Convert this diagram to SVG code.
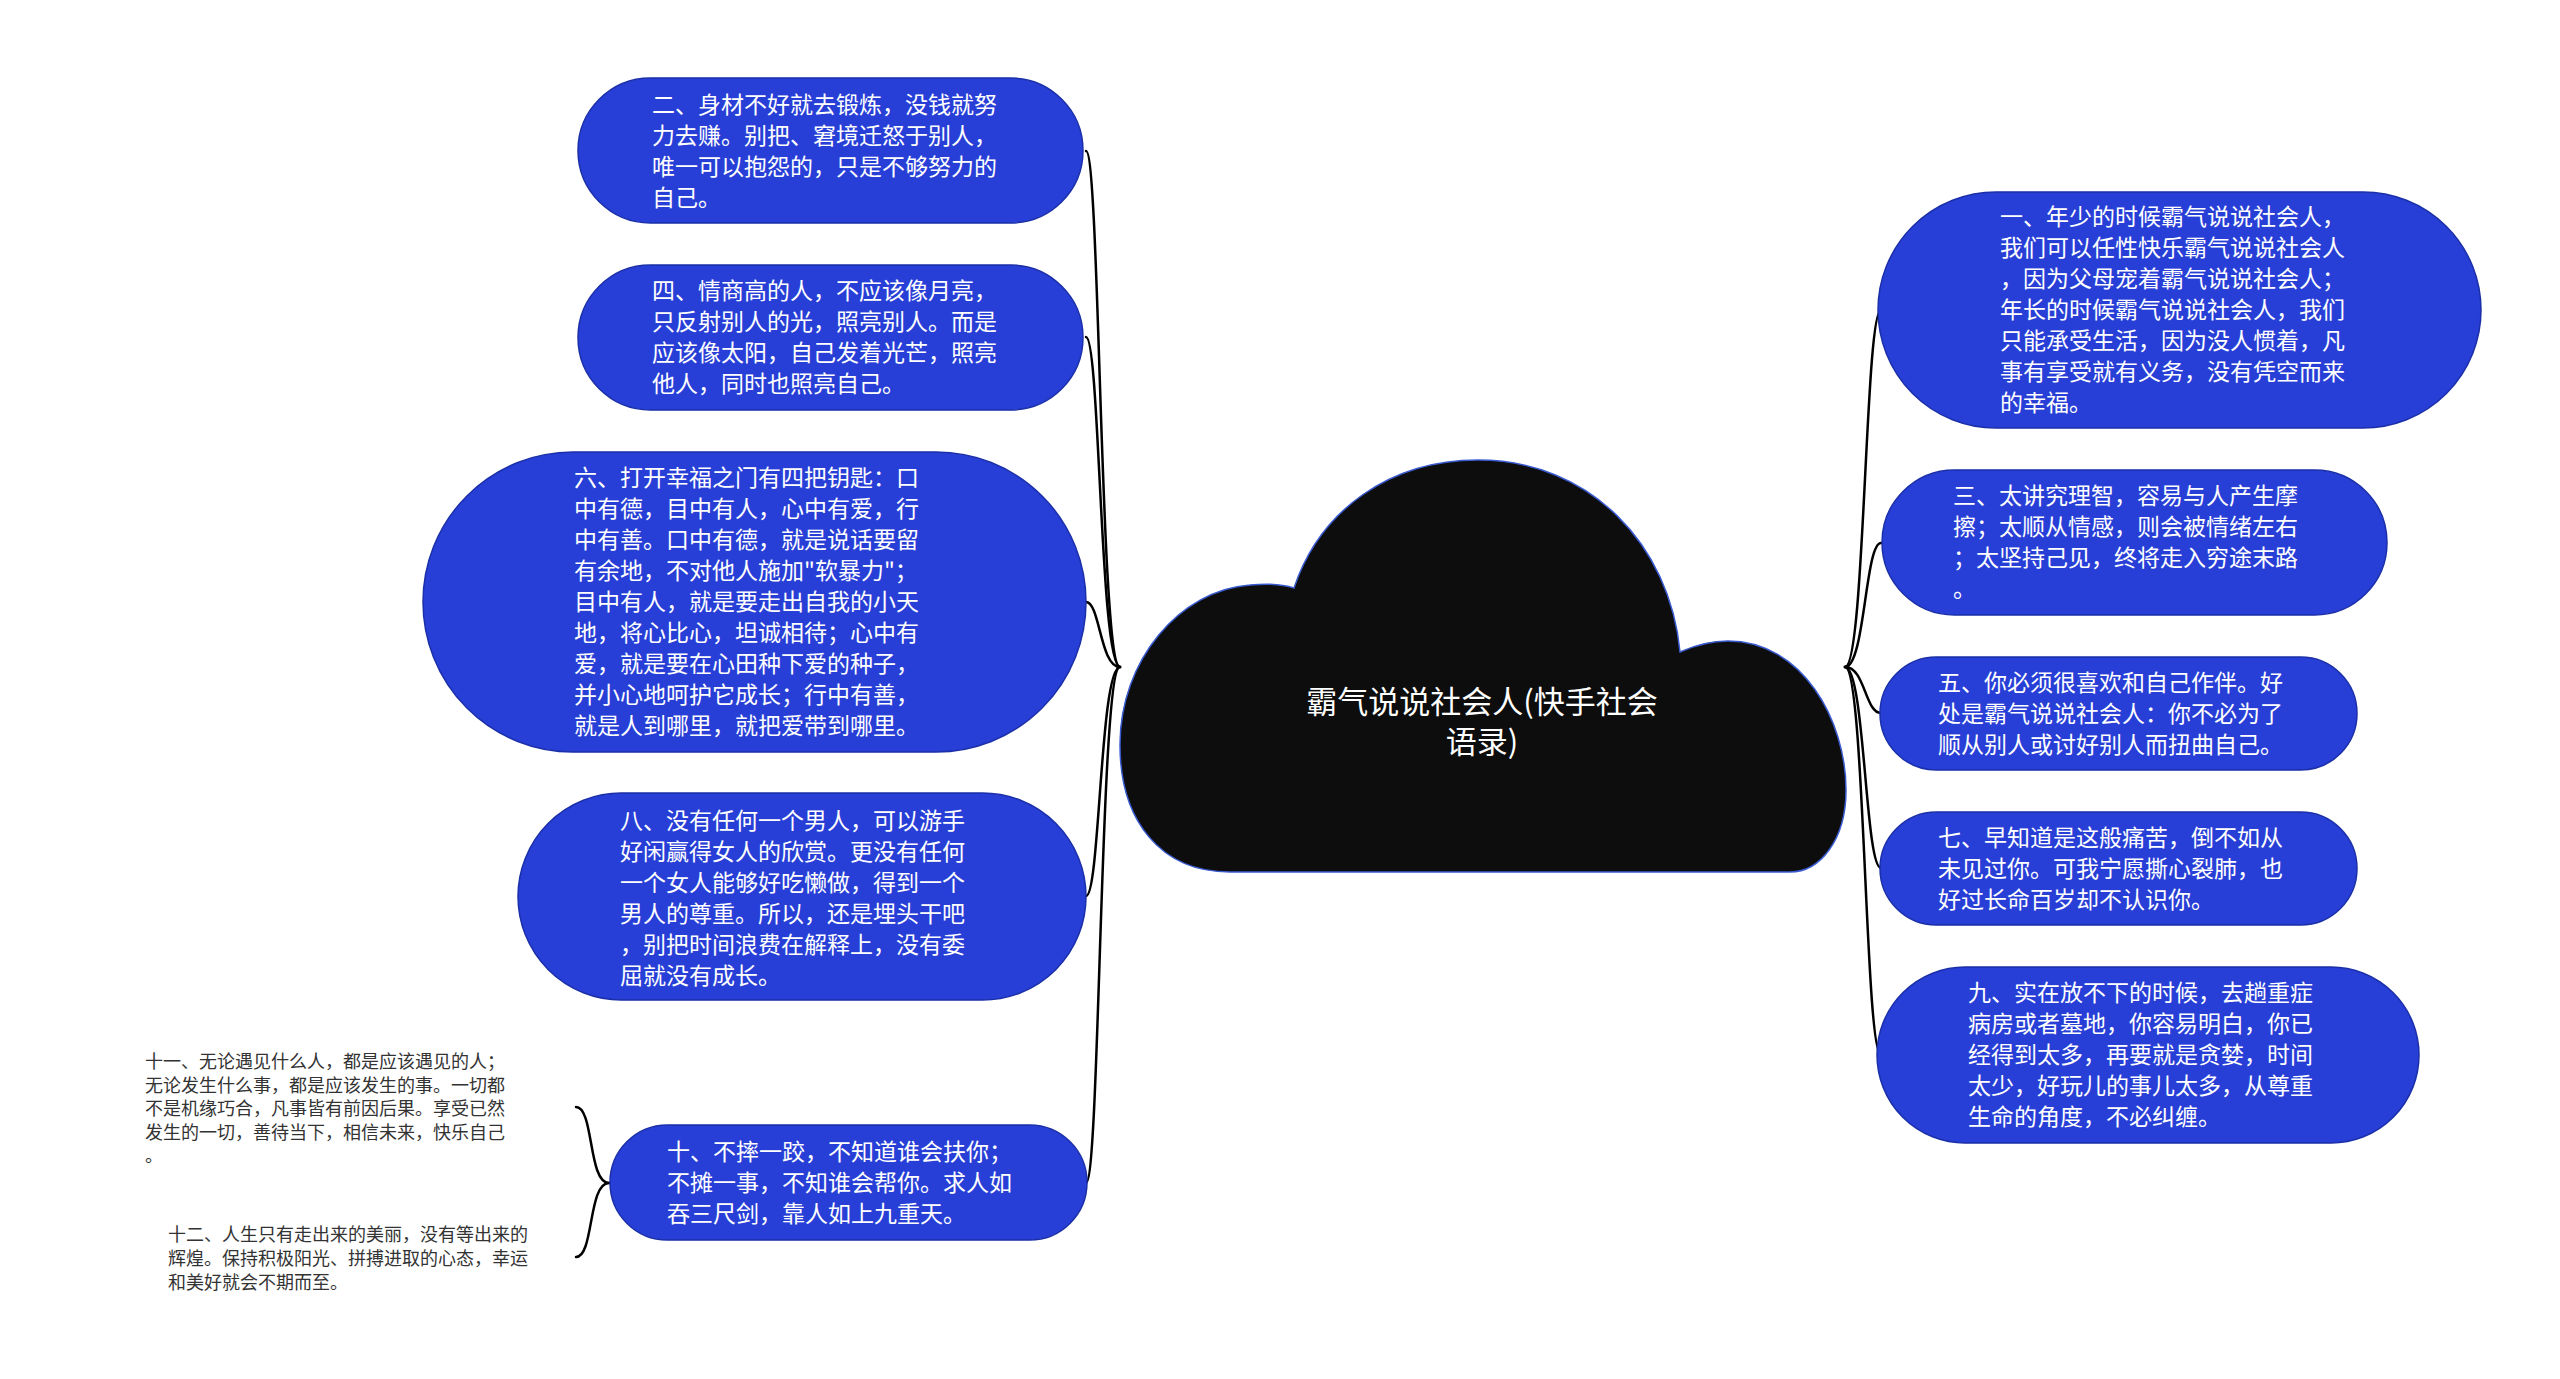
<svg xmlns="http://www.w3.org/2000/svg" width="2560" height="1379" viewBox="0 0 2560 1379">
<style>
.bg{fill:#ffffff}
.node{fill:#283fd7;stroke:#1a2fa8;stroke-width:1.5}
.t{font-family:"Noto Sans CJK SC","Liberation Sans",sans-serif;font-size:23px;fill:#ffffff}
.s{font-family:"Noto Sans CJK SC","Liberation Sans",sans-serif;font-size:18px;fill:#333333}
.c{font-family:"Noto Sans CJK SC","Liberation Sans",sans-serif;font-size:31px;fill:#ffffff;text-anchor:middle}
.cloud{fill:#0d0d0d;stroke:#3a5bd0;stroke-width:1.5}
.link{fill:none;stroke:#000000;stroke-width:2.5;stroke-linecap:round}
</style>
<rect class="bg" x="0" y="0" width="2560" height="1379"/>
<g id="connectors">
<path class="link" d="M1120,667 C1100,667 1100,151 1086,151"/>
<path class="link" d="M1120,667 C1100,667 1100,337 1086,337"/>
<path class="link" d="M1120,667 C1100,667 1100,602 1086,602"/>
<path class="link" d="M1120,667 C1100,667 1100,896 1086,896"/>
<path class="link" d="M1120,667 C1100,667 1100,1183 1086,1183"/>
<path class="link" d="M1845,667 C1865,667 1865,310 1881,310"/>
<path class="link" d="M1845,667 C1865,667 1865,543 1881,543"/>
<path class="link" d="M1845,667 C1865,667 1865,713 1881,713"/>
<path class="link" d="M1845,667 C1865,667 1865,868 1881,868"/>
<path class="link" d="M1845,667 C1865,667 1865,1055 1881,1055"/>
<path class="link" d="M609,1183 C588,1183 594,1107 576,1107"/>
<path class="link" d="M609,1183 C588,1183 594,1257 576,1257"/>
</g>
<g id="root">
<path class="cloud" d="M1230,872 C1160,872 1120,820 1120,745 C1120,660 1180,590 1250,585 C1270,583 1285,585 1294,588 C1320,510 1390,460 1478,460 C1590,460 1670,545 1680,652 C1698,644 1712,641 1728,641 C1802,641 1846,720 1846,790 C1846,840 1820,872 1790,872 Z"/>
<text class="c" x="1482" y="713">霸气说说社会人(快手社会</text>
<text class="c" x="1482" y="753">语录)</text>
</g>
<g id="n2">
<rect class="node" x="578" y="78" width="505" height="145" rx="72.5" ry="72.5"/>
<text class="t"><tspan x="652" y="113">二、身材不好就去锻炼，没钱就努</tspan><tspan x="652" y="144">力去赚。别把、窘境迁怒于别人，</tspan><tspan x="652" y="175">唯一可以抱怨的，只是不够努力的</tspan><tspan x="652" y="206">自己。</tspan></text>
</g>
<g id="n4">
<rect class="node" x="578" y="265" width="505" height="145" rx="72.5" ry="72.5"/>
<text class="t"><tspan x="652" y="299">四、情商高的人，不应该像月亮，</tspan><tspan x="652" y="330">只反射别人的光，照亮别人。而是</tspan><tspan x="652" y="361">应该像太阳，自己发着光芒，照亮</tspan><tspan x="652" y="392">他人，同时也照亮自己。</tspan></text>
</g>
<g id="n6">
<rect class="node" x="423" y="452" width="663" height="300" rx="150" ry="150"/>
<text class="t"><tspan x="574" y="486">六、打开幸福之门有四把钥匙：口</tspan><tspan x="574" y="517">中有德，目中有人，心中有爱，行</tspan><tspan x="574" y="548">中有善。口中有德，就是说话要留</tspan><tspan x="574" y="579">有余地，不对他人施加"软暴力"；</tspan><tspan x="574" y="610">目中有人，就是要走出自我的小天</tspan><tspan x="574" y="641">地，将心比心，坦诚相待；心中有</tspan><tspan x="574" y="672">爱，就是要在心田种下爱的种子，</tspan><tspan x="574" y="703">并小心地呵护它成长；行中有善，</tspan><tspan x="574" y="734">就是人到哪里，就把爱带到哪里。</tspan></text>
</g>
<g id="n8">
<rect class="node" x="518" y="793" width="568" height="207" rx="103.5" ry="103.5"/>
<text class="t"><tspan x="620" y="829">八、没有任何一个男人，可以游手</tspan><tspan x="620" y="860">好闲赢得女人的欣赏。更没有任何</tspan><tspan x="620" y="891">一个女人能够好吃懒做，得到一个</tspan><tspan x="620" y="922">男人的尊重。所以，还是埋头干吧</tspan><tspan x="620" y="953">，别把时间浪费在解释上，没有委</tspan><tspan x="620" y="984">屈就没有成长。</tspan></text>
</g>
<g id="n10">
<rect class="node" x="610" y="1125" width="477" height="115" rx="57.5" ry="57.5"/>
<text class="t"><tspan x="667" y="1160">十、不摔一跤，不知道谁会扶你；</tspan><tspan x="667" y="1191">不摊一事，不知谁会帮你。求人如</tspan><tspan x="667" y="1222">吞三尺剑，靠人如上九重天。</tspan></text>
</g>
<g id="n11">
<text class="s"><tspan x="145" y="1068">十一、无论遇见什么人，都是应该遇见的人；</tspan><tspan x="145" y="1092">无论发生什么事，都是应该发生的事。一切都</tspan><tspan x="145" y="1115">不是机缘巧合，凡事皆有前因后果。享受已然</tspan><tspan x="145" y="1139">发生的一切，善待当下，相信未来，快乐自己</tspan><tspan x="145" y="1162">。</tspan></text>
</g>
<g id="n12">
<text class="s"><tspan x="168" y="1241">十二、人生只有走出来的美丽，没有等出来的</tspan><tspan x="168" y="1265">辉煌。保持积极阳光、拼搏进取的心态，幸运</tspan><tspan x="168" y="1289">和美好就会不期而至。</tspan></text>
</g>
<g id="n1">
<rect class="node" x="1878" y="192" width="603" height="236" rx="118" ry="118"/>
<text class="t"><tspan x="2000" y="225">一、年少的时候霸气说说社会人，</tspan><tspan x="2000" y="256">我们可以任性快乐霸气说说社会人</tspan><tspan x="2000" y="287">，因为父母宠着霸气说说社会人；</tspan><tspan x="2000" y="318">年长的时候霸气说说社会人，我们</tspan><tspan x="2000" y="349">只能承受生活，因为没人惯着，凡</tspan><tspan x="2000" y="380">事有享受就有义务，没有凭空而来</tspan><tspan x="2000" y="411">的幸福。</tspan></text>
</g>
<g id="n3">
<rect class="node" x="1882" y="470" width="505" height="145" rx="72.5" ry="72.5"/>
<text class="t"><tspan x="1953" y="504">三、太讲究理智，容易与人产生摩</tspan><tspan x="1953" y="535">擦；太顺从情感，则会被情绪左右</tspan><tspan x="1953" y="566">；太坚持己见，终将走入穷途末路</tspan><tspan x="1953" y="597">。</tspan></text>
</g>
<g id="n5">
<rect class="node" x="1880" y="657" width="477" height="113" rx="56.5" ry="56.5"/>
<text class="t"><tspan x="1938" y="691">五、你必须很喜欢和自己作伴。好</tspan><tspan x="1938" y="722">处是霸气说说社会人：你不必为了</tspan><tspan x="1938" y="753">顺从别人或讨好别人而扭曲自己。</tspan></text>
</g>
<g id="n7">
<rect class="node" x="1880" y="812" width="477" height="113" rx="56.5" ry="56.5"/>
<text class="t"><tspan x="1938" y="846">七、早知道是这般痛苦，倒不如从</tspan><tspan x="1938" y="877">未见过你。可我宁愿撕心裂肺，也</tspan><tspan x="1938" y="908">好过长命百岁却不认识你。</tspan></text>
</g>
<g id="n9">
<rect class="node" x="1877" y="967" width="542" height="176" rx="88" ry="88"/>
<text class="t"><tspan x="1968" y="1001">九、实在放不下的时候，去趟重症</tspan><tspan x="1968" y="1032">病房或者墓地，你容易明白，你已</tspan><tspan x="1968" y="1063">经得到太多，再要就是贪婪，时间</tspan><tspan x="1968" y="1094">太少，好玩儿的事儿太多，从尊重</tspan><tspan x="1968" y="1125">生命的角度，不必纠缠。</tspan></text>
</g>
</svg>
